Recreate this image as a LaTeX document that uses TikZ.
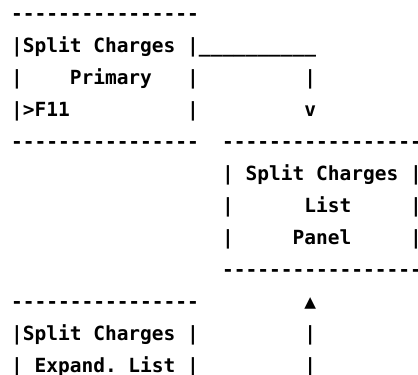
\documentclass[tikz,border=0pt]{standalone}
\usepackage{fontspec}
\usepackage{tikz}
\newfontfamily\asciimono{DejaVu Sans Mono}

\begin{document}
\begin{tikzpicture}[x=11.73pt,y=32pt,
  txt/.style={anchor=base west,inner sep=0pt,outer sep=0pt,
    font=\asciimono\bfseries\fontsize{19.5}{19.5}\selectfont}]
  \useasboundingbox (-11.1pt,-354.5pt) rectangle (406.9pt,20.5pt);
  % primary box
  \node[txt] (pritop) at (0,0) {----------------};
  \node[txt] (prititle) at (0,-1) {|Split~Charges~|};
  \node[txt] (priname) at (0,-2) {|~~~~Primary~~~|};
  \node[txt] (prikey) at (0,-3) {|>F11~~~~~~~~~~|};
  \node[txt] (pribot) at (0,-4) {----------------};
  % arrow down to the list panel
  \node[txt] (outline) at (16,-1) {\_\_\_\_\_\_\_\_\_\_};
  \node[txt] (outbar) at (25,-2) {|};
  \node[txt] (outtip) at (25,-3) {v};
  % list panel box
  \node[txt] (lsttop) at (18,-4) {-----------------};
  \node[txt] (lsttitle) at (18,-5) {|~Split~Charges~|};
  \node[txt] (lstname) at (18,-6) {|~~~~~~List~~~~~|};
  \node[txt] (lstpanel) at (18,-7) {|~~~~~Panel~~~~~|};
  \node[txt] (lstbot) at (18,-8) {-----------------};
  % expand list box
  \node[txt] (exptop) at (0,-9) {----------------};
  \node[txt] (exptitle) at (0,-10) {|Split~Charges~|};
  \node[txt] (expname) at (0,-11) {|~Expand.~List~|};
  % arrow up to the list panel
  \node[txt] (intip) at (25,-9) {▲};
  \node[txt] (inbar) at (25,-10) {|};
  \node[txt] (inbarb) at (25,-11) {|};
\end{tikzpicture}
\end{document}
